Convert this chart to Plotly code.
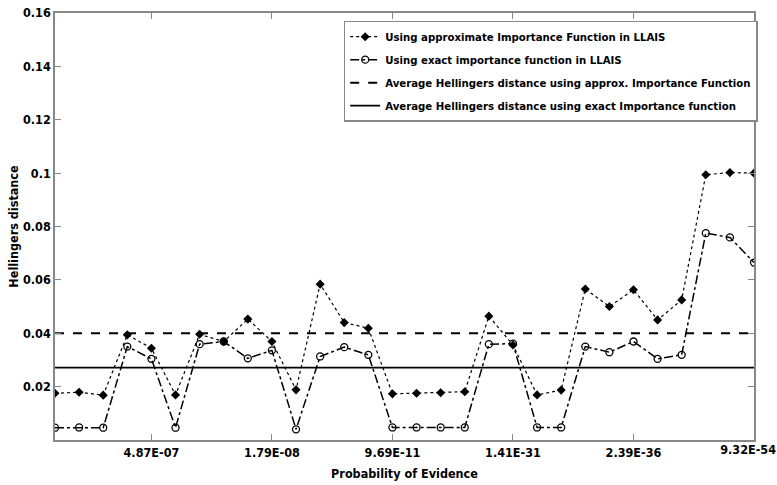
import plotly.graph_objects as go

x_idx = list(range(1, 31))
tick_vals = [5, 10, 15, 20, 25]
tick_text = ["4.87E-07", "1.79E-08", "9.69E-11", "1.41E-31", "2.39E-36"]
last_tick_val = 30
last_tick_text = "9.32E-54"

approx = [0.0175, 0.0179, 0.0168, 0.0394, 0.0344, 0.0169, 0.0396, 0.0369, 0.0453, 0.0369,
          0.0188, 0.0584, 0.0440, 0.0419, 0.0173, 0.0175, 0.0177, 0.0181, 0.0464, 0.0356,
          0.0169, 0.0187, 0.0566, 0.0500, 0.0563, 0.0450, 0.0525, 0.0994, 0.1002, 0.1000]
exact = [0.0046, 0.0047, 0.0046, 0.0350, 0.0304, 0.0046, 0.0359, 0.0369, 0.0306, 0.0336,
         0.0040, 0.0313, 0.0348, 0.0319, 0.0047, 0.0047, 0.0047, 0.0047, 0.0359, 0.0361,
         0.0047, 0.0047, 0.0350, 0.0329, 0.0369, 0.0304, 0.0319, 0.0775, 0.0759, 0.0665]
avg_approx = 0.0400
avg_exact = 0.0271

names = ["Using approximate Importance Function in LLAIS",
         "Using exact importance function in LLAIS",
         "Average Hellingers distance using approx. Importance Function",
         "Average Hellingers distance using exact Importance function"]

FONT = "DejaVu Sans Condensed, Liberation Sans Narrow, sans-serif"

fig = go.Figure()
fig.add_trace(go.Scatter(x=x_idx, y=approx, mode="lines+markers", name=names[0], legendgroup="a",
                         line=dict(color="black", dash="dot", width=1.2),
                         marker=dict(symbol="diamond", size=7, color="black")))
fig.add_trace(go.Scatter(x=x_idx, y=exact, mode="lines+markers", name=names[1], legendgroup="b",
                         line=dict(color="black", dash="dashdot", width=1.5),
                         marker=dict(symbol="circle-open", size=7, color="black",
                                     line=dict(width=1.3))))
fig.add_trace(go.Scatter(x=[x_idx[0], x_idx[-1]], y=[avg_approx, avg_approx], mode="lines",
                         name=names[2], legendgroup="c",
                         line=dict(color="black", dash="dash", width=2)))
fig.add_trace(go.Scatter(x=[x_idx[0], x_idx[-1]], y=[avg_exact, avg_exact], mode="lines",
                         name=names[3], legendgroup="d",
                         line=dict(color="black", width=1.8)))
# invisible helper trace so the overlay axis carrying the last tick label is drawn
fig.add_trace(go.Scatter(x=[x_idx[-1]], y=[avg_exact], xaxis="x2", mode="markers",
                         marker=dict(opacity=0), showlegend=False, hoverinfo="skip"))

tickfont = dict(family=FONT, size=12.5, weight="bold")

fig.update_layout(
    width=777, height=485,
    margin=dict(l=55, r=23, t=13, b=45, autoexpand=False),
    paper_bgcolor="white", plot_bgcolor="white",
    font=dict(family=FONT, size=12, color="black"),
    showlegend=True,
    legend=dict(x=0.413, y=0.982, xanchor="left", yanchor="top",
                bgcolor="white", bordercolor="#888", borderwidth=1.5,
                font=dict(family=FONT, size=11.3, color="black", weight="bold"),
                traceorder="grouped", tracegroupgap=4, itemwidth=30),
    xaxis2=dict(overlaying="x", anchor="y", side="bottom", range=[1, 30],
                tickmode="array", tickvals=[last_tick_val], ticktext=[last_tick_text],
                showline=False, showgrid=False, zeroline=False, ticks="",
                ticklabelposition="outside left", ticklabelshift=22,
                ticklabeloverflow="allow", tickfont=tickfont),
)
fig.update_xaxes(selector=dict(anchor="y"), overwrite=False)
fig.update_layout(xaxis=dict(range=[1, 30], tickmode="array", tickvals=tick_vals + [last_tick_val],
                 ticktext=tick_text + [""],
                 showgrid=False, zeroline=False, showline=True, linecolor="#888", linewidth=1.5,
                 mirror="ticks", ticks="inside", ticklen=6, tickcolor="#888",
                 ticklabeloverflow="allow", tickfont=tickfont,
                 title=dict(text="Probability of Evidence", standoff=10,
                            font=dict(family=FONT, size=12.5, weight="bold"))))
fig.update_yaxes(range=[0, 0.16], tickmode="array",
                 tickvals=[0.02, 0.04, 0.06, 0.08, 0.1, 0.12, 0.14, 0.16],
                 ticktext=["0.02", "0.04", "0.06", "0.08", "0.1", "0.12", "0.14", "0.16"],
                 showgrid=False, zeroline=False, showline=True, linecolor="#888", linewidth=1.5,
                 mirror="ticks", ticks="inside", ticklen=6, tickcolor="#888",
                 tickfont=tickfont,
                 title=dict(text="Hellingers distance", standoff=2,
                            font=dict(family=FONT, size=12.5, weight="bold")))

fig.write_html("out.html")
